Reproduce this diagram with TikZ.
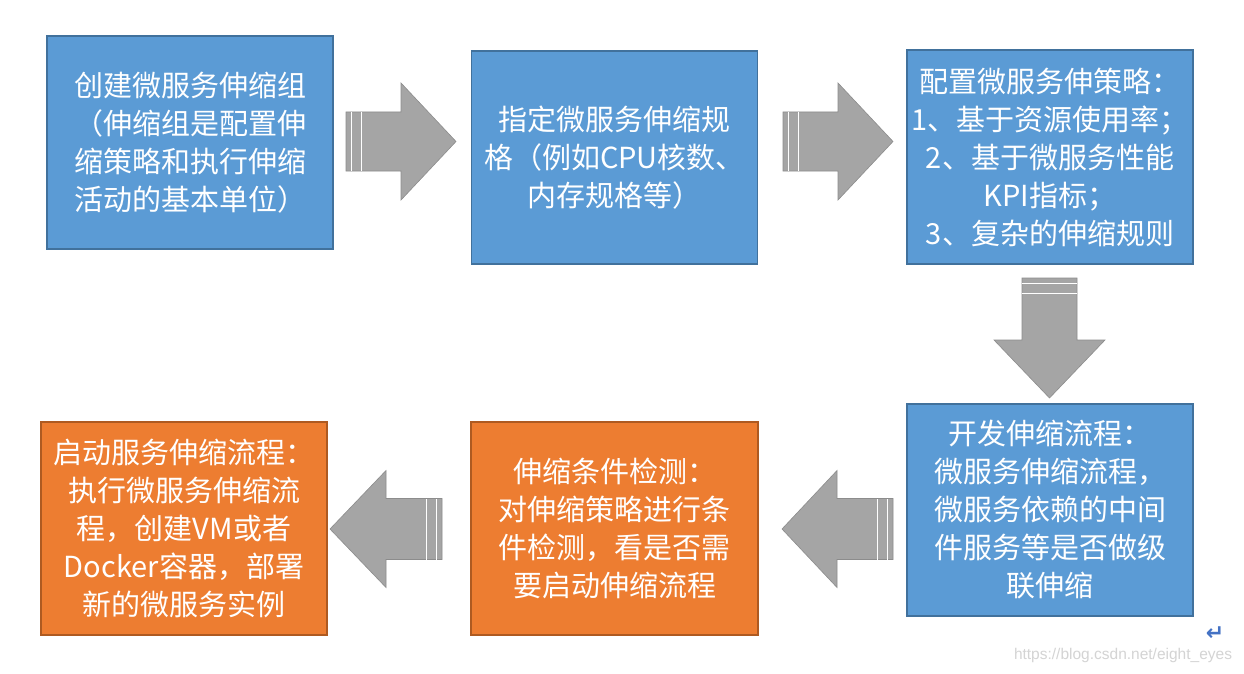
\documentclass[tikz,border=0pt]{standalone}
\usepackage{fontspec}
\newfontfamily\cjk{Noto Sans CJK SC}
\newfontfamily\wmfont{Liberation Sans}
\newfontfamily\symfont{DejaVu Sans}
\definecolor{boxblue}{RGB}{91,155,213}
\definecolor{boxblueline}{RGB}{65,113,156}
\definecolor{boxorange}{RGB}{237,125,49}
\definecolor{boxorangeline}{RGB}{174,90,33}
\definecolor{arrowgray}{RGB}{165,165,165}
\definecolor{arrowline}{RGB}{140,140,140}
\definecolor{wmgray}{RGB}{212,212,212}
\definecolor{retblue}{RGB}{68,114,196}
\tikzset{
  stepbox/.style={rectangle, minimum width=286pt, minimum height=213pt, inner sep=0pt,
    line width=1.2pt, text=white, align=center,
    font=\cjk\fontsize{29}{38}\selectfont},
  bluebox/.style={stepbox, fill=boxblue, draw=boxblueline},
  orangebox/.style={stepbox, fill=boxorange, draw=boxorangeline},
  blockarrowstyle/.style={fill=arrowgray, draw=arrowline, line width=0.6pt, line join=miter},
  stripe/.style={draw=white, line width=1pt},
}
% x, y (tail centre), rotation, length, shaft half width, head half width, head length
\newcommand\BlockArrow[7]{%
  \begin{scope}[shift={(#1,#2)},rotate=#3]
    \path[blockarrowstyle] (0,-#5) -- ({#4-#7},-#5) -- ({#4-#7},-#6) -- (#4,0)
      -- ({#4-#7},#6) -- ({#4-#7},#5) -- (0,#5) -- cycle;
    \draw[stripe] (5.5,-#5) -- (5.5,#5) (15.5,-#5) -- (15.5,#5);
  \end{scope}}
\begin{document}
\begin{tikzpicture}[x=1pt,y=-1pt]
  \useasboundingbox[fill=white] (0,0) rectangle (1244,674);

  \node[bluebox] (b1) at (190,142.5) {创建微服务伸缩组\\（伸缩组是配置伸\\缩策略和执行伸缩\\活动的基本单位）};
  \node[bluebox] (b2) at (614.5,157.5) {指定微服务伸缩规\\格（例如CPU核数、\\内存规格等）};
  \node[bluebox, minimum height=214pt] (b3) at (1050,157) {配置微服务伸策略：\\1、基于资源使用率；\\2、基于微服务性能\\KPI指标；\\3、复杂的伸缩规则};
  \node[bluebox, minimum height=212pt] (b4) at (1050,510) {开发伸缩流程：\\微服务伸缩流程，\\微服务依赖的中间\\件服务等是否做级\\联伸缩};
  \node[orangebox, minimum width=287pt] (b5) at (614.5,528.5) {伸缩条件检测：\\对伸缩策略进行条\\件检测，看是否需\\要启动伸缩流程};
  \node[orangebox] (b6) at (184,528.5) {启动服务伸缩流程：\\执行微服务伸缩流\\程，创建VM或者\\Docker容器，部署\\新的微服务实例};

  % block arrows between the boxes
  \BlockArrow{346}{141.5}{0}{110}{29.5}{58.5}{55}
  \BlockArrow{783}{141.5}{0}{110}{29.5}{58.5}{55}
  \BlockArrow{1049.5}{278}{-90}{120}{27.5}{55.5}{58}
  \BlockArrow{893}{529}{180}{111}{30.5}{58.5}{55}
  \BlockArrow{442}{529}{180}{112}{30.5}{58.5}{56}

  \node[text=retblue, font=\symfont\bfseries\fontsize{22}{22}\selectfont, inner sep=0pt] (ret) at (1215,634) {↵};
  \node[text=wmgray, font=\wmfont\fontsize{15.5}{16}\selectfont, inner sep=0pt] (wm) at (1123,655) {https://blog.csdn.net/eight\_eyes};
\end{tikzpicture}
\end{document}
